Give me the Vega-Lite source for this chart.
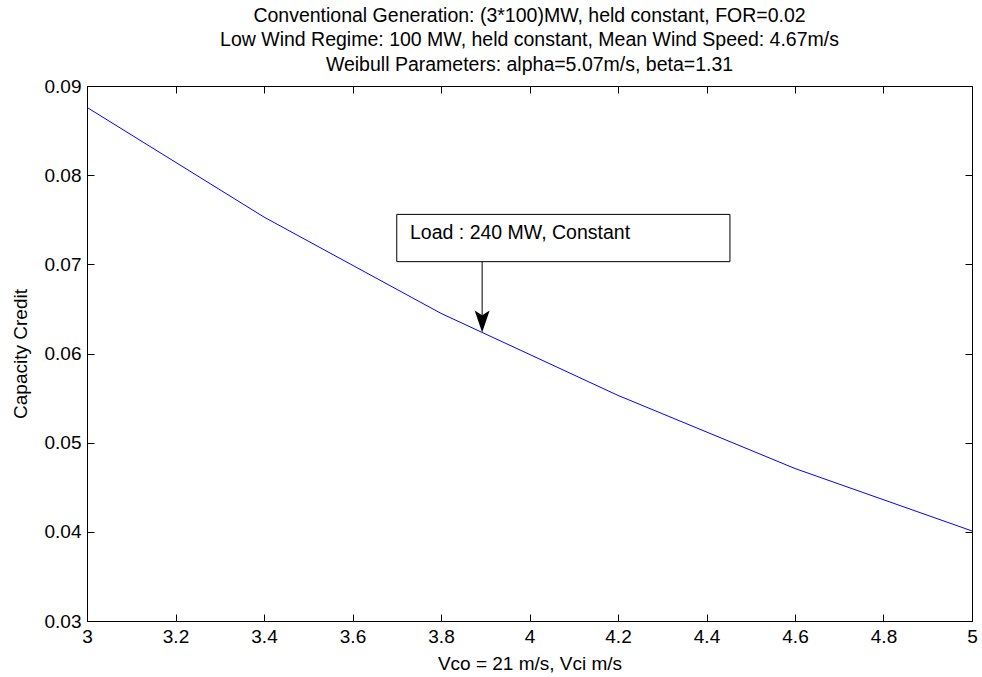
{
  "$schema": "https://vega.github.io/schema/vega-lite/v6.json",
  "width": 885,
  "height": 535,
  "autosize": {"type": "none"},
  "padding": {"left": 87, "top": 86, "right": 10, "bottom": 56},
  "background": "white",
  "config": {
    "font": "Liberation Sans",
    "view": {"stroke": "black", "strokeWidth": 1},
    "axis": {
      "domain": false,
      "grid": false,
      "tickColor": "black",
      "tickSize": -7,
      "tickWidth": 1,
      "labelColor": "black",
      "labelFontSize": 19,
      "labelFont": "Liberation Sans",
      "titleColor": "black",
      "titleFontSize": 19,
      "titleFontWeight": "normal",
      "titleFont": "Liberation Sans"
    }
  },
  "title": {
    "text": [
      "Conventional Generation: (3*100)MW, held constant, FOR=0.02",
      "Low Wind Regime: 100 MW, held constant, Mean Wind Speed: 4.67m/s",
      "Weibull Parameters: alpha=5.07m/s, beta=1.31"
    ],
    "fontSize": 19.5,
    "fontWeight": "normal",
    "font": "Liberation Sans",
    "color": "black",
    "lineHeight": 24.5,
    "offset": 2,
    "anchor": "middle"
  },
  "datasets": {
    "curve": [
      {"v": 3.0, "cc": 0.0876},
      {"v": 3.4, "cc": 0.0753},
      {"v": 3.8, "cc": 0.0645},
      {"v": 4.2, "cc": 0.0553},
      {"v": 4.6, "cc": 0.0471},
      {"v": 5.0, "cc": 0.0401}
    ],
    "box": [{"x1": 3.70, "x2": 4.453, "y1": 0.0756, "y2": 0.0703, "tx": 3.73, "ty": 0.0735, "label": "Load : 240 MW, Constant"}],
    "arrow": [{"x": 3.893, "y": 0.0703, "y2": 0.0632, "hy": 0.0636}]
  },
  "layer": [
    {
      "data": {"name": "curve"},
      "mark": {"type": "line", "color": "#0000ff", "strokeWidth": 1},
      "encoding": {
        "x": {"field": "v", "type": "quantitative", "scale": {"domain": [3, 5], "nice": false, "zero": false},
              "axis": {"orient": "bottom", "values": [3, 3.2, 3.4, 3.6, 3.8, 4, 4.2, 4.4, 4.6, 4.8, 5], "format": "~g", "labelPadding": 13, "title": "Vco = 21 m/s, Vci m/s", "titlePadding": 8, "labelFlush": false, "labelOverlap": false}},
        "y": {"field": "cc", "type": "quantitative", "scale": {"domain": [0.03, 0.09], "nice": false, "zero": false},
              "axis": {"orient": "left", "values": [0.03, 0.04, 0.05, 0.06, 0.07, 0.08, 0.09], "format": ".2f", "labelPadding": 13, "title": "Capacity Credit", "titlePadding": 14, "labelFlush": false, "labelOverlap": false}}
      }
    },
    {
      "data": {"name": "curve"},
      "mark": {"type": "point", "opacity": 0},
      "encoding": {
        "x": {"field": "v", "type": "quantitative",
              "axis": {"orient": "top", "values": [3, 3.2, 3.4, 3.6, 3.8, 4, 4.2, 4.4, 4.6, 4.8, 5], "labels": false, "title": null}},
        "y": {"field": "cc", "type": "quantitative",
              "axis": {"orient": "right", "values": [0.03, 0.04, 0.05, 0.06, 0.07, 0.08, 0.09], "labels": false, "title": null}}
      }
    },
    {
      "data": {"name": "box"},
      "mark": {"type": "rect", "fill": "white", "stroke": "black", "strokeWidth": 1},
      "encoding": {
        "x": {"field": "x1", "type": "quantitative", "axis": null},
        "x2": {"field": "x2"},
        "y": {"field": "y1", "type": "quantitative", "axis": null},
        "y2": {"field": "y2"}
      }
    },
    {
      "data": {"name": "box"},
      "mark": {"type": "text", "align": "left", "baseline": "middle", "fontSize": 19.5, "font": "Liberation Sans", "color": "black"},
      "encoding": {
        "x": {"field": "tx", "type": "quantitative", "axis": null},
        "y": {"field": "ty", "type": "quantitative", "axis": null},
        "text": {"field": "label"}
      }
    },
    {
      "data": {"name": "arrow"},
      "mark": {"type": "rule", "color": "black", "strokeWidth": 1},
      "encoding": {
        "x": {"field": "x", "type": "quantitative", "axis": null},
        "y": {"field": "y", "type": "quantitative", "axis": null},
        "y2": {"field": "y2"}
      }
    },
    {
      "data": {"name": "arrow"},
      "mark": {"type": "point", "filled": true, "color": "black", "opacity": 1, "size": 484, "shape": "M0,1 L-0.68,-1 L0,-0.55 L0.68,-1 Z"},
      "encoding": {
        "x": {"field": "x", "type": "quantitative", "axis": null},
        "y": {"field": "hy", "type": "quantitative", "axis": null}
      }
    }
  ],
  "resolve": {"axis": {"x": "independent", "y": "independent"}}
}
